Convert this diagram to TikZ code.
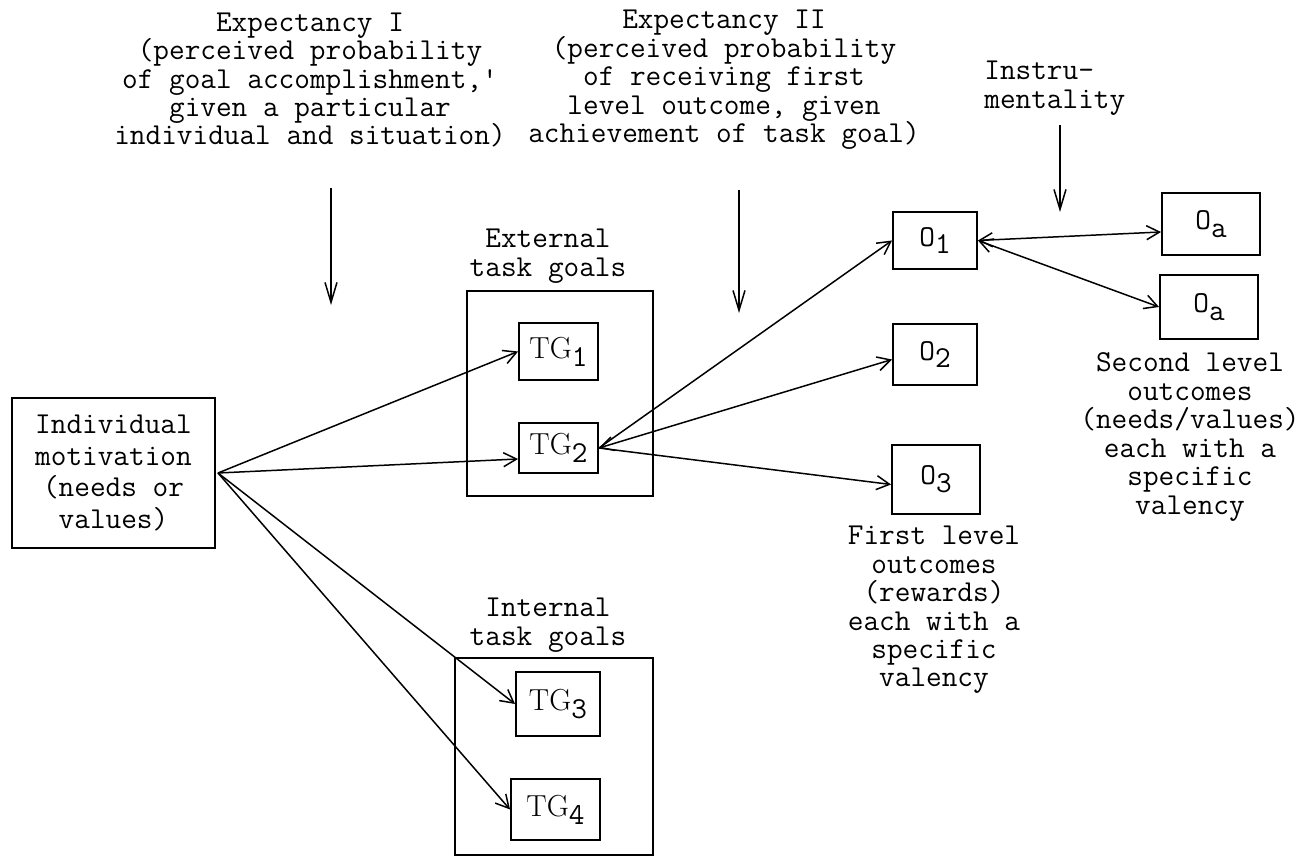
\documentclass[tikz,border=0pt]{standalone}
\usetikzlibrary{arrows.meta}
% subscript set low and nearly full size, as on a typewriter
\newcommand\lowsub[1]{\raisebox{-0.6ex}{#1}}
\begin{document}
\begin{tikzpicture}[x=0.02cm, y=-0.02cm,
  txt/.style={font=\ttfamily\fontsize{17.3}{16.2}\selectfont, align=center, inner sep=0pt},
  box/.style={draw, line width=1.1pt, inner sep=0pt, font=\ttfamily\fontsize{17.3}{16.2}\selectfont},
  link/.style={line width=0.85pt, -{Straight Barb[length=2.6mm,width=2.8mm]}},
  twoway/.style={line width=0.85pt, {Straight Barb[length=2.6mm,width=2.8mm]}-{Straight Barb[length=2.6mm,width=2.8mm]}},
  drop/.style={line width=0.85pt, -{Straight Barb[length=4mm,width=2.4mm]}}]
\useasboundingbox (0,0) rectangle (1306,857);

% headings
\node[txt] (exp1) at (310,80) {Expectancy I\\(perceived probability\\of goal accomplishment,'\\given a particular\\individual and situation)};
\node[txt] (exp2) at (724,80) {Expectancy II\\(perceived probability\\of receiving first\\level outcome, given\\achievement of task goal)};
\node[txt, anchor=west, align=left] (instr) at (984,88) {Instru-\\mentality};

% motivation
\node[box, minimum width=4.06cm, minimum height=3.0cm, align=center,
      font=\ttfamily\fontsize{17.3}{17.9}\selectfont] (ind) at (113.5,473)
  {Individual\\motivation\\(needs or\\values)};
\coordinate (src) at (218,473);

% task goals
\node[txt] (extlab) at (548,256) {External\\task goals};
\node[box, minimum width=3.72cm, minimum height=4.1cm] (ext) at (560,393.5) {};
\node[box, minimum width=1.58cm, minimum height=1.14cm] (tg1) at (558.5,351.5) {{\rmfamily TG}\lowsub{1}};
\node[box, minimum width=1.58cm, minimum height=1.0cm] (tg2) at (558.5,448) {{\rmfamily TG}\lowsub{2}};

\node[txt] (intlab) at (548,625) {Internal\\task goals};
\node[box, minimum width=3.96cm, minimum height=3.94cm] (int) at (554,756.5) {};
\node[box, minimum width=1.68cm, minimum height=1.28cm] (tg3) at (558,704) {{\rmfamily TG}\lowsub{3}};
\node[box, minimum width=1.78cm, minimum height=1.22cm] (tg4) at (555.5,809.5) {{\rmfamily TG}\lowsub{4}};

% first level outcomes
\node[box, minimum width=1.68cm, minimum height=1.14cm] (o1) at (935,240.5) {O\lowsub{1}};
\node[box, minimum width=1.68cm, minimum height=1.22cm] (o2) at (935,354.5) {O\lowsub{2}};
\node[box, minimum width=1.76cm, minimum height=1.38cm] (o3) at (936,479.5) {O\lowsub{3}};
\node[txt] (lvl1) at (934,610) {First level\\outcomes\\(rewards)\\each with a\\specific\\valency};

% second level outcomes
\node[box, minimum width=1.96cm, minimum height=1.24cm] (oa1) at (1211,224) {O\lowsub{a}};
\node[box, minimum width=1.96cm, minimum height=1.28cm] (oa2) at (1209,307) {O\lowsub{a}};
\node[txt] (lvl2) at (1190,437) {Second level\\outcomes\\(needs/values)\\each with a\\specific\\valency};

% connectors from motivation to task goals
\draw[link] (src) -- (tg1.west);
\draw[link] (src) -- ([yshift=-2.2mm]tg2.west);
\draw[link] (src) -- (tg3.west);
\draw[link] (src) -- (tg4.west);

% connectors from task goal to first level outcomes
\draw[link] (tg2.east) -- (o1.west);
\draw[twoway] (tg2.east) -- ([yshift=-1mm]o2.west);
\draw[link] (tg2.east) -- ([yshift=-1mm]o3.west);

% connectors between first and second level outcomes
\draw[twoway] (o1.east) -- ([yshift=-1.6mm]oa1.west);
\draw[twoway] (o1.east) -- (oa2.west);

% labelled influences
\coordinate (d1a) at (331,188); \coordinate (d1b) at (331,305);
\coordinate (d2a) at (739,190); \coordinate (d2b) at (739,313);
\coordinate (d3a) at (1060,125); \coordinate (d3b) at (1060,212);
\draw[drop] (d1a) -- (d1b);
\draw[drop] (d2a) -- (d2b);
\draw[drop] (d3a) -- (d3b);
\end{tikzpicture}
\end{document}
